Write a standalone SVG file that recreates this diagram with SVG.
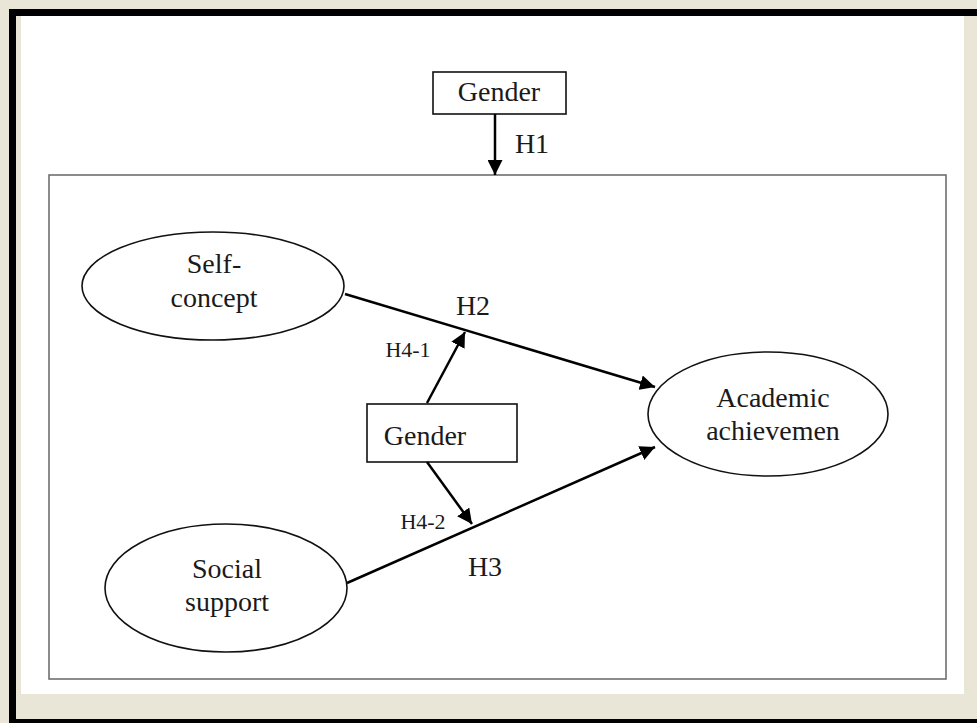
<svg xmlns="http://www.w3.org/2000/svg" width="977" height="723" viewBox="0 0 977 723">
<style>
.lbl{font-family:"Liberation Serif","Times New Roman",serif;font-size:28px;fill:#1a1a1a;text-anchor:middle}
.sm{font-family:"Liberation Serif","Times New Roman",serif;font-size:22px;fill:#1a1a1a;text-anchor:middle}
.node{fill:#fff;stroke:#111;stroke-width:1.6}
.edge{stroke:#000;stroke-width:2.5;fill:none;marker-end:url(#ah)}
</style>
<defs>
<marker id="ah" viewBox="0 0 10 10" refX="10" refY="5" markerWidth="6" markerHeight="6" orient="auto" markerUnits="strokeWidth">
<path d="M0,0 L10,5 L0,10 z" fill="#000"/>
</marker>
</defs>
<rect x="0" y="0" width="977" height="723" fill="#e9e6d8"/>
<rect x="21" y="16" width="943" height="678" fill="#fff"/>
<rect x="9" y="9" width="968" height="7" fill="#000"/>
<rect x="9" y="9" width="7" height="714" fill="#000"/>
<rect x="9" y="719" width="968" height="4" fill="#000"/>
<g id="frame">
<rect x="49" y="175" width="897" height="504" fill="#fff" stroke="#666" stroke-width="1.5"/>
</g>
<g id="gender-top">
<rect class="node" x="433" y="72" width="133" height="42"/>
<text class="lbl" x="499" y="101">Gender</text>
</g>
<g id="self-concept">
<ellipse class="node" cx="213" cy="286" rx="131" ry="54"/>
<text class="lbl" x="214" y="273">Self-</text>
<text class="lbl" x="214" y="307">concept</text>
</g>
<g id="social-support">
<ellipse class="node" cx="226" cy="588" rx="121" ry="64"/>
<text class="lbl" x="227" y="578">Social</text>
<text class="lbl" x="227" y="611">support</text>
</g>
<g id="academic">
<ellipse class="node" cx="768" cy="414" rx="120" ry="62"/>
<text class="lbl" x="773" y="407">Academic</text>
<text class="lbl" x="773" y="440">achievemen</text>
</g>
<g id="gender-mid">
<rect class="node" x="367" y="404" width="150" height="58"/>
<text class="lbl" x="425" y="445">Gender</text>
</g>
<g id="connectors">
<line class="edge" x1="495" y1="114" x2="495" y2="175"/>
<line class="edge" x1="345" y1="294" x2="655" y2="387"/>
<line class="edge" x1="347" y1="583" x2="655" y2="447"/>
<line class="edge" x1="427" y1="403" x2="465" y2="332"/>
<line class="edge" x1="427" y1="462" x2="472" y2="524"/>
<text class="lbl" x="532" y="153">H1</text>
<text class="lbl" x="473" y="315">H2</text>
<text class="lbl" x="485" y="576">H3</text>
<text class="sm" x="408" y="357">H4-1</text>
<text class="sm" x="423" y="529">H4-2</text>
</g>
</svg>
